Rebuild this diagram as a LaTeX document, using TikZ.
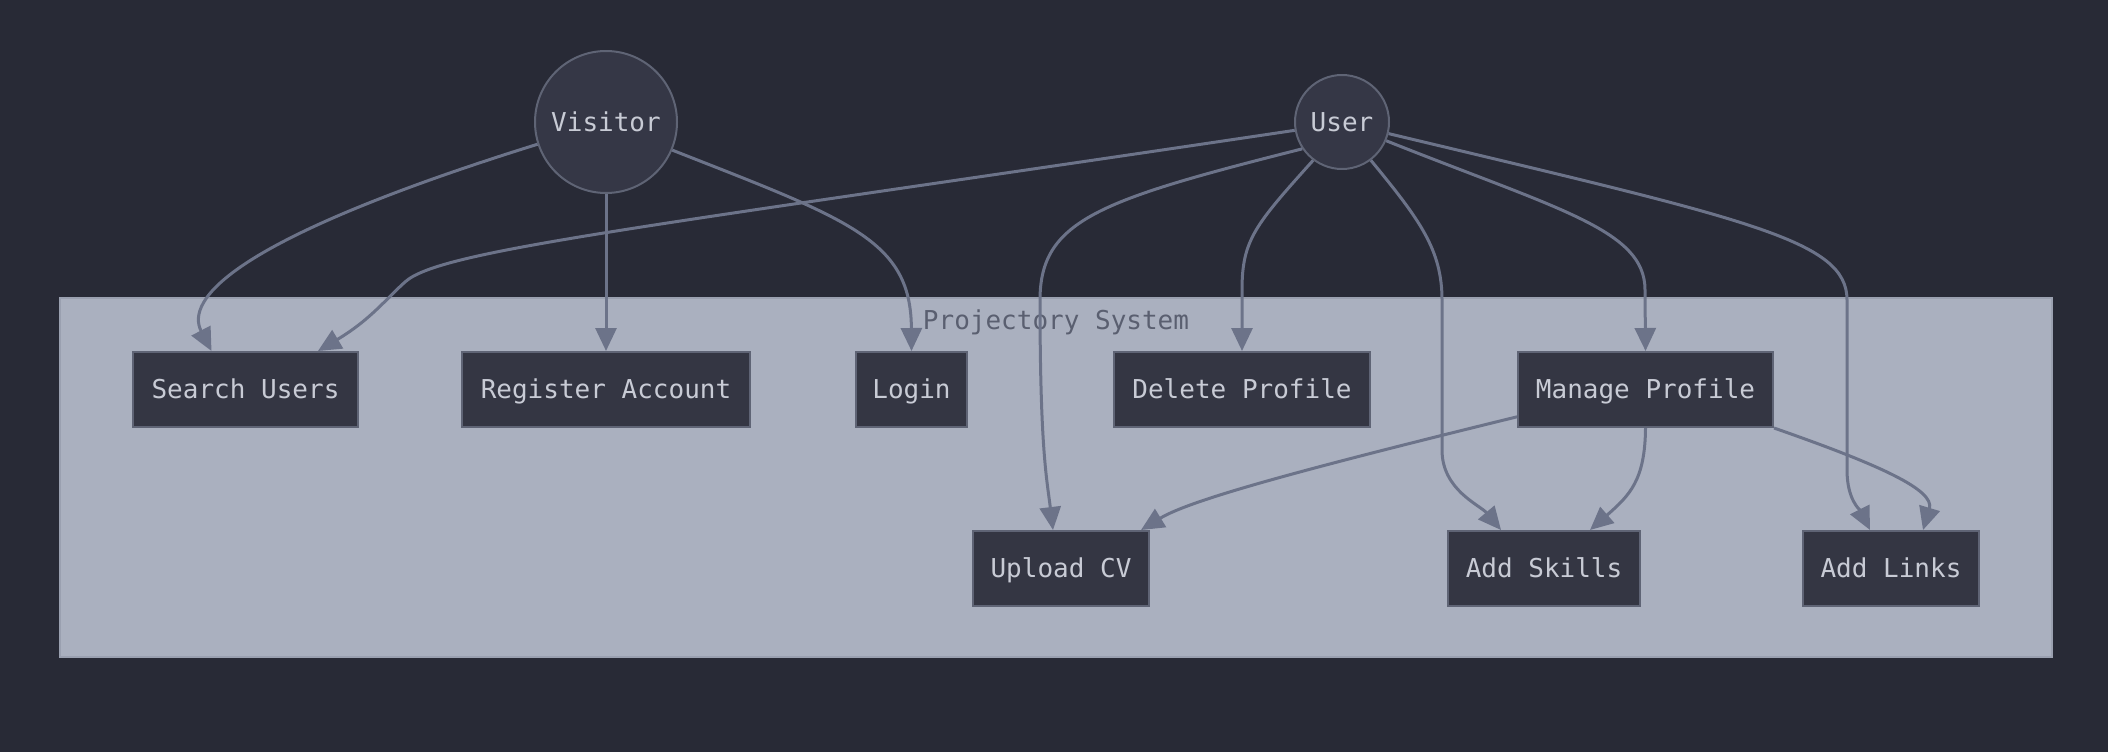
\documentclass[tikz,border=0pt]{standalone}
\usepackage{fontspec}
\setmonofont{DejaVu Sans Mono}
\usetikzlibrary{arrows.meta}
\definecolor{bgc}{HTML}{282A36}
\definecolor{nodefill}{HTML}{343643}
\definecolor{circfill}{HTML}{353746}
\definecolor{nodeline}{HTML}{5F6475}
\definecolor{clusterfill}{HTML}{AAB0BF}
\definecolor{clusterline}{HTML}{9AA0B0}
\definecolor{edgec}{HTML}{6C7389}
\definecolor{textc}{HTML}{C8CBD5}
\definecolor{labelc}{HTML}{5A5F70}
\tikzset{
  txt/.style={font=\ttfamily\fontsize{26}{30}\selectfont, text height=18pt, text depth=0pt},
  actor/.style={txt, circle, draw=nodeline, fill=circfill, line width=2pt, inner sep=0pt, text=textc},
  usecase/.style={txt, rectangle, draw=nodeline, fill=nodefill, line width=2pt, inner sep=0pt, minimum height=75pt, text=textc},
  cluster/.style={rectangle, draw=clusterline, fill=clusterfill, line width=2pt, inner sep=0pt},
  edge/.style={draw=edgec, line width=3pt, -{Triangle[length=23pt,width=21pt]}},
}
\begin{document}
\begin{tikzpicture}[x=1pt,y=-1pt]
\fill[bgc] (0,0) rectangle (2108,752);
\useasboundingbox (0,0) rectangle (2108,752);

% cluster
\node[cluster, minimum width=1992pt, minimum height=359pt] (sys) at (1056,477.5) {};
\node[txt, text=labelc, inner sep=0pt] (syslabel) at (1056,320) {Projectory System};

% actors
\node[actor, minimum size=142pt] (visitor) at (606,122) {Visitor};
\node[actor, minimum size=94pt] (user) at (1342,122) {User};

% use cases
\node[usecase, minimum width=225pt] (search) at (245.5,389.5) {Search Users};
\node[usecase, minimum width=288pt] (register) at (606,389.5) {Register Account};
\node[usecase, minimum width=111pt] (login) at (911.5,389.5) {Login};
\node[usecase, minimum width=256pt] (delete) at (1242,389.5) {Delete Profile};
\node[usecase, minimum width=255pt] (manage) at (1645.5,389.5) {Manage Profile};
\node[usecase, minimum width=176pt] (upload) at (1061,568.5) {Upload CV};
\node[usecase, minimum width=192pt] (skills) at (1544,568.5) {Add Skills};
\node[usecase, minimum width=176pt] (links) at (1891,568.5) {Add Links};

% visitor edges
\draw[edge] (visitor.198) .. controls (230,240) and (185,300) .. ([xshift=-34pt]search.north);
\draw[edge] (visitor.south) -- (register.north);
\draw[edge] (visitor.-23) .. controls (850,220) and (911,240) .. (login.north);

% user edges
\draw[edge] (user.190) .. controls (640,228) and (440,250) .. (405,282) .. controls (385,300) and (370,320) .. ([xshift=186pt]search.north west);
\draw[edge] (user.214) .. controls (1100,200) and (1040,220) .. (1040,300) .. controls (1040,450) and (1047,480) .. ([xshift=-8pt]upload.north);
\draw[edge] (user.233) .. controls (1255,225) and (1242,240) .. (1242,290) -- (delete.north);
\draw[edge] (user.-53) .. controls (1420,220) and (1442,250) .. (1442,300) -- (1442,450) .. controls (1442,490) and (1480,505) .. ([xshift=54pt]skills.north west);
\draw[edge] (user.-23) .. controls (1560,210) and (1645,230) .. (1645,290) -- (manage.north);
\draw[edge] (user.-14) .. controls (1750,220) and (1847,240) .. (1847,300) -- (1847,470) .. controls (1847,500) and (1860,510) .. ([xshift=68pt]links.north west);

% manage edges
\draw[edge] (manage.192.6) .. controls (1300,470) and (1190,500) .. ([xshift=-9pt]upload.north east);
\draw[edge] (manage.south) .. controls (1645,480) and (1630,495) .. ([xshift=143pt]skills.north west);
\draw[edge] (manage.south east) .. controls (1880,465) and (1935,490) .. ([xshift=121pt]links.north west);
\end{tikzpicture}
\end{document}
